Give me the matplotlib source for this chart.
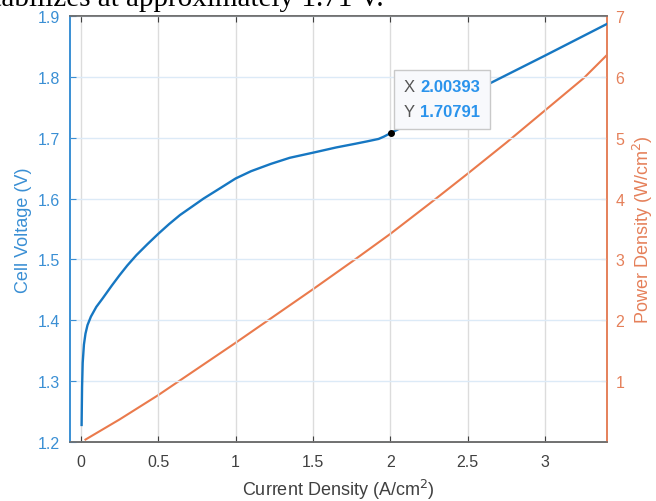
import numpy as np
import matplotlib
import matplotlib.pyplot as plt
from matplotlib.offsetbox import TextArea, HPacker, VPacker, AnnotationBbox

matplotlib.rcParams.update({'font.family': 'Liberation Sans', 'font.size': 11.5})

# cell voltage curve
current = [0.005, 0.008, 0.012, 0.02, 0.03, 0.043, 0.065, 0.1, 0.141, 0.2,
           0.25, 0.3, 0.359, 0.43, 0.5, 0.57, 0.641, 0.72, 0.793, 0.9,
           1.0, 1.1, 1.228, 1.35, 1.511, 1.65, 1.772, 1.85, 1.924, 1.96,
           2.00393, 2.5, 3.0, 3.4]
voltage = [1.228, 1.29, 1.33, 1.36, 1.378, 1.392, 1.406, 1.422, 1.436, 1.457,
           1.474, 1.49, 1.507, 1.525, 1.542, 1.558, 1.573, 1.587, 1.600, 1.617,
           1.633, 1.645, 1.657, 1.667, 1.676, 1.684, 1.690, 1.694, 1.698, 1.702,
           1.70791, 1.771, 1.835, 1.887]

# power density curve
p_current = [0.03, 0.25, 0.5, 0.75, 1.0, 1.25, 1.5, 1.75, 2.0, 2.25, 2.5,
             2.75, 3.0, 3.25, 3.4]
power = [0.04, 0.37, 0.77, 1.2, 1.63, 2.07, 2.51, 2.96, 3.42, 3.91, 4.41,
         4.92, 5.45, 5.98, 6.36]

tip_x, tip_y = 2.00393, 1.70791

blue = '#1677c2'
blue_ax = '#3a8fd4'
orange = '#ea7a4c'
orange_ax = '#e5805a'
grey = '#404040'

fig = plt.figure(figsize=(6.56, 5.02), dpi=100)
ax1 = fig.add_axes([70/656, 1-443/502, 537/656, 426/502])
ax2 = ax1.twinx()

ax1.plot(current, voltage, color=blue, lw=1.7, zorder=3)
ax2.plot(p_current, power, color=orange, lw=1.5)

ax1.set_xlim(-0.07, 3.4)
ax1.set_ylim(1.2, 1.9)
ax2.set_ylim(0, 7)
ax1.set_xticks([0, 0.5, 1, 1.5, 2, 2.5, 3])
ax1.set_xticklabels(['0', '0.5', '1', '1.5', '2', '2.5', '3'])
ax1.set_yticks(np.arange(1.2, 1.91, 0.1))
ax1.set_yticklabels(['1.2', '1.3', '1.4', '1.5', '1.6', '1.7', '1.8', '1.9'])
ax2.set_yticks([1, 2, 3, 4, 5, 6, 7])

# grid: grey verticals, pale blue horizontals
ax1.grid(axis='x', color='#dcdcdc', lw=1)
ax1.grid(axis='y', color='#dceaf7', lw=1)
ax1.set_axisbelow(True)
ax1.set_zorder(ax2.get_zorder() + 1)
ax1.patch.set_visible(False)

ax1.tick_params(axis='x', direction='in', top=True, length=4, color=grey,
                labelcolor=grey, pad=9)
ax1.tick_params(axis='y', direction='in', length=4, color=blue_ax,
                labelcolor=blue_ax, pad=7)
ax2.tick_params(axis='y', direction='in', length=4, color=orange_ax,
                labelcolor=orange_ax, pad=6)

for ax in (ax1, ax2):
    ax.spines['top'].set_color('#6e6e6e')
    ax.spines['bottom'].set_color('#6e6e6e')
    ax.spines['left'].set_color(blue_ax)
    ax.spines['right'].set_color(orange_ax)
    for s in ax.spines.values():
        s.set_linewidth(1.2)

ax1.set_xlabel('Current Density (A/cm$^2$)', color=grey, fontsize=13,
               labelpad=5)
ax1.set_ylabel('Cell Voltage (V)', color=blue_ax, fontsize=13, labelpad=4)
ax2.set_ylabel('Power Density (W/cm$^2$)', color=orange_ax, fontsize=13,
               labelpad=5)

# data tip
ax1.plot([tip_x], [tip_y], 'o', color='black', ms=4, zorder=5)
row1 = HPacker(children=[TextArea('X', textprops=dict(color='#555555', fontsize=12)),
                         TextArea(f'{tip_x:.5f}', textprops=dict(color='#2a93ec', fontsize=12, weight='bold'))],
               sep=4, pad=0)
row2 = HPacker(children=[TextArea('Y', textprops=dict(color='#555555', fontsize=12)),
                         TextArea(f'{tip_y:.5f}', textprops=dict(color='#2a93ec', fontsize=12, weight='bold'))],
               sep=4, pad=0)
tip = AnnotationBbox(VPacker(children=[row1, row2], sep=7, pad=0),
                     (tip_x, tip_y), xybox=(9, 10), boxcoords='offset points',
                     box_alignment=(0, 0), pad=0.6, frameon=True,
                     bboxprops=dict(facecolor='#f8f9fc', edgecolor='#c9c9c9', lw=1))
tip.set_zorder(6)
ax1.add_artist(tip)

# caption text cut off at the top of the screenshot
fig.text(-0.028, 1-6/502, 'stabilizes at approximately 1.71 V.',
         family='Liberation Serif', fontsize=21, va='baseline', color='black')

plt.savefig('out.png', dpi=100)
